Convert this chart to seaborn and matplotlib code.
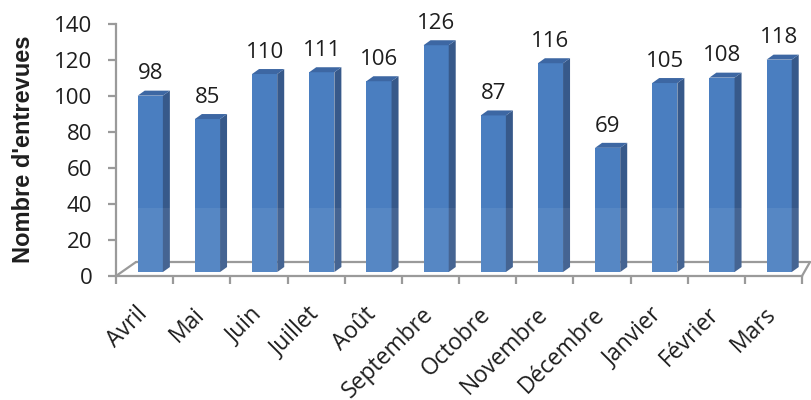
import matplotlib
matplotlib.use("Agg")
import matplotlib.pyplot as plt
import matplotlib.transforms as mtransforms
from matplotlib.patches import Polygon, Rectangle
from matplotlib.lines import Line2D
import seaborn as sns
import pandas as pd

months = ["Avril", "Mai", "Juin", "Juillet", "Août", "Septembre", "Octobre",
          "Novembre", "Décembre", "Janvier", "Février", "Mars"]
values = [98, 85, 110, 111, 106, 126, 87, 116, 69, 105, 108, 118]
y_ticks = [0, 20, 40, 60, 80, 100, 120, 140]
y_label = "Nombre d'entrevues"

df = pd.DataFrame({"mois": months, "entrevues": values})

sns.set_theme(style="white")
plt.rcParams["font.family"] = ["Open Sans", "DejaVu Sans"]

W, H = 811, 400
fig = plt.figure(figsize=(W / 100, H / 100), dpi=100)
ax = fig.add_axes([116 / W, 1 - 276 / H, (802 - 116) / W, (276 - 24) / H])

FRONT = "#4a7ec0"
SIDE = "#37598a"
TOP = "#3d67a3"
AXC = "#9a9a9a"
TXT = "#1e1e1e"

sns.barplot(data=df, x="mois", y="entrevues", color=FRONT, saturation=1,
            width=0.44, ax=ax, order=months, zorder=3)

ax.set_xlim(-0.5, len(months) - 0.5)
ax.set_ylim(0, 140)

dx = 7 / 57.17
dy = 5 / 1.8
lift = 2.2
shift = 0.1
for p, v in zip(ax.patches, values):
    p.set_x(p.get_x() + shift)
    p.set_y(lift)
    p.set_edgecolor("none")
    x0 = p.get_x()
    w = p.get_width()
    x1 = x0 + w
    top = lift + v
    ax.add_patch(Polygon([(x1, lift), (x1 + dx, lift + dy), (x1 + dx, top + dy), (x1, top)],
                         closed=True, facecolor=SIDE, edgecolor="none", zorder=3))
    ax.add_patch(Polygon([(x0, top), (x0 + dx, top + dy), (x1 + dx, top + dy), (x1, top)],
                         closed=True, facecolor=TOP, edgecolor="none", zorder=3))
    ax.add_patch(Rectangle((x0, lift), w + dx, 38 - lift, facecolor="white", alpha=0.07,
                           edgecolor="none", zorder=3.5))
    ax.text(x0 + w / 2, top + dy + 3.5, str(v), ha="center", va="bottom",
            fontsize=16, color=TXT, zorder=5)

back_y = (276 - 262) / 1.8
ax.add_line(Line2D([-0.5 + 20 / 57.17, len(months) - 0.5 + 8 / 57.17], [back_y, back_y],
                   color=AXC, lw=1.6, zorder=2, clip_on=False))
ax.add_line(Line2D([-0.5, -0.5 + 20 / 57.17], [0, back_y], color=AXC, lw=1.6,
                   zorder=2, clip_on=False))
ax.add_line(Line2D([len(months) - 0.5, len(months) - 0.5 + 8 / 57.17], [0, back_y],
                   color=AXC, lw=1.6, zorder=2, clip_on=False))

for s in ["top", "right"]:
    ax.spines[s].set_visible(False)
for s in ["left", "bottom"]:
    ax.spines[s].set_color(AXC)
    ax.spines[s].set_linewidth(1.6)

ax.set_yticks(y_ticks)
ax.set_yticklabels([str(t) for t in y_ticks], fontsize=16, color=TXT)
ax.tick_params(axis="y", which="major", direction="out", length=6, width=1.6,
               color=AXC, pad=11, left=True)

ax.set_xticks([i - 0.5 for i in range(len(months) + 1)])
ax.set_xticklabels([""] * (len(months) + 1))
ax.set_xticks(range(len(months)), minor=True)
ax.set_xticklabels(months, minor=True, rotation=45, ha="right",
                   rotation_mode="anchor", fontsize=16.5, color=TXT)
ax.tick_params(axis="x", which="major", direction="out", length=6, width=1.6,
               color=AXC, bottom=True)
ax.tick_params(axis="x", which="minor", length=0, pad=19, bottom=True)
off = mtransforms.ScaledTranslation(-9 / 100, 0, fig.dpi_scale_trans)
for lbl in ax.get_xticklabels(minor=True):
    lbl.set_transform(lbl.get_transform() + off)

ax.set_xlabel("")
ax.set_ylabel(y_label, fontsize=17, fontweight="bold", color=TXT,
              family=["Liberation Sans", "DejaVu Sans"])
ax.yaxis.set_label_coords((35 - 116) / (802 - 116), (276 - 149) / (276 - 24))
ax.grid(False)

fig.savefig("out.png", dpi=100)
